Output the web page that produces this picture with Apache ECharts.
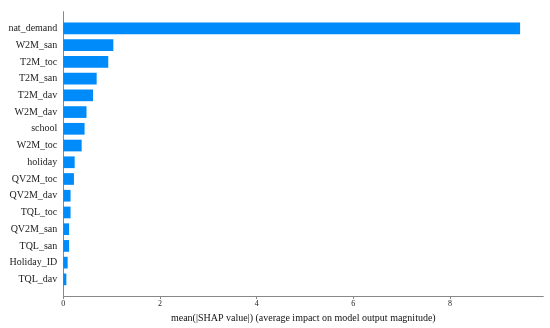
<!DOCTYPE html>
<html><head><meta charset="utf-8">
<script src="https://cdn.jsdelivr.net/npm/echarts@6/dist/echarts.min.js"></script>
<style>html,body{margin:0;padding:0;background:#fff}#c{width:550px;height:328px}</style>
</head><body><div id="c"></div>
<script>
// features from top to bottom
const features = ['nat_demand','W2M_san','T2M_toc','T2M_san','T2M_dav','W2M_dav','school','W2M_toc','holiday','QV2M_toc','QV2M_dav','TQL_toc','QV2M_san','TQL_san','Holiday_ID','TQL_dav'];
const meanAbsShap = [9.45,1.035,0.93,0.69,0.615,0.48,0.44,0.38,0.235,0.22,0.15,0.15,0.12,0.12,0.09,0.063];
const xTicks = [0,2,4,6,8];
const xTitle = 'mean(|SHAP value|) (average impact on model output magnitude)';

// category axis bottom->top, padded with an empty slot at each end
const cats = [''].concat(features.slice().reverse(), ['']);
const vals = [null].concat(meanAbsShap.slice().reverse(), [null]);

const chart = echarts.init(document.getElementById('c'), null, {renderer:'canvas'});
const font = 'Liberation Serif';
chart.setOption({
  animation:false,
  grid:{left:63.3,right:6.7,top:11.7,bottom:30.7,containLabel:false},
  xAxis:{type:'value',min:0,max:9.93,interval:2,
    axisLine:{show:true,lineStyle:{color:'#888',width:1}},
    axisTick:{show:true,length:3,customValues:xTicks,lineStyle:{color:'#888'}},
    axisLabel:{customValues:xTicks,fontFamily:font,fontSize:8,color:'#222',margin:4},
    splitLine:{show:false},
    name:xTitle,nameLocation:'middle',nameGap:15,
    nameTextStyle:{fontFamily:font,fontSize:10,color:'#111'}},
  yAxis:{type:'category',data:cats,boundaryGap:false,
    axisLine:{show:true,onZero:false,lineStyle:{color:'#888',width:1}},
    axisTick:{show:false},
    axisLabel:{fontFamily:font,fontSize:10,color:'#222',margin:6,interval:0},
    splitLine:{show:false}},
  series:[{type:'bar',data:vals,barWidth:11.7,itemStyle:{color:'#008bfb'}}]
});
</script></body></html>
